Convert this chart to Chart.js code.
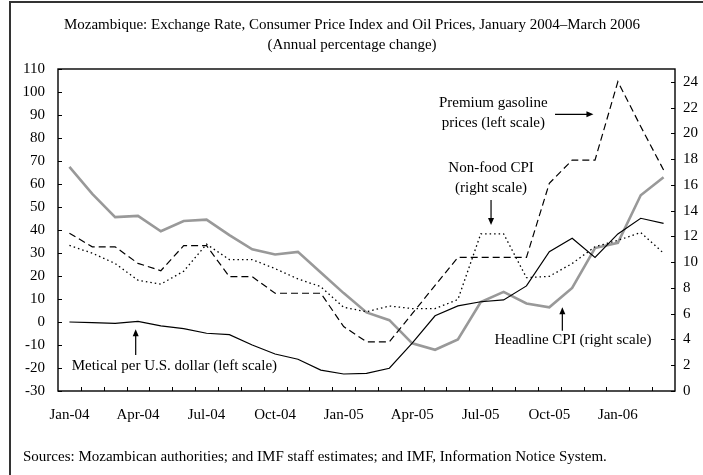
<!DOCTYPE html>
<html><head><meta charset="utf-8">
<script src="https://cdn.jsdelivr.net/npm/chart.js@4/dist/chart.umd.min.js"></script>
<style>html,body{margin:0;padding:0;background:#fff;} #wrap{width:703px;height:475px;position:relative;}</style>
</head><body><div id="wrap"><canvas id="c" width="703" height="475"></canvas></div>
<script>
const categories = ["Jan-04","Feb-04","Mar-04","Apr-04","May-04","Jun-04","Jul-04","Aug-04","Sep-04","Oct-04","Nov-04","Dec-04",
  "Jan-05","Feb-05","Mar-05","Apr-05","May-05","Jun-05","Jul-05","Aug-05","Sep-05","Oct-05","Nov-05","Dec-05",
  "Jan-06","Feb-06","Mar-06"];
const headlineCPI = [17.4,15.3,13.5,13.6,12.4,13.2,13.3,12.1,11.0,10.6,10.8,9.2,7.6,6.1,5.5,3.7,3.2,4.0,6.9,7.7,6.8,6.5,8.0,11.1,11.5,15.2,16.6];
const nonFoodCPI = [11.3,10.7,9.9,8.6,8.3,9.3,11.4,10.2,10.2,9.5,8.7,8.1,6.5,6.15,6.6,6.4,6.4,7.1,12.2,12.2,8.8,8.9,9.9,11.2,11.7,12.3,10.7];
const gasoline = [38.6,32.7,32.7,25.5,22.3,33.2,33.2,19.7,19.7,12.5,12.5,12.5,-2.0,-8.6,-8.6,3.6,15.9,28.1,28.1,28.1,28.1,60.3,70.4,70.4,104.5,85.0,66.1];
const metical = [0.0,-0.3,-0.6,0.3,-1.7,-2.9,-4.9,-5.5,-10.0,-13.9,-16.2,-20.9,-22.6,-22.3,-20.1,-9.2,2.7,7.0,8.8,9.6,15.7,30.6,36.4,28.1,38.3,45.1,42.9];
const leftAxis = {min:-30, max:110, step:10};
const rightAxis = {min:0, max:25, step:2};
const titleLines = ["Mozambique: Exchange Rate, Consumer Price Index and Oil Prices, January 2004\u2013March 2006", "(Annual percentage change)"];
const sourceNote = "Sources: Mozambican authorities; and IMF staff estimates; and IMF, Information Notice System.";

const FONT = "15px 'Liberation Serif'";
const fontObj = {family:"'Liberation Serif'", size:15};

const annotations = [
  {lines:["Metical per U.S. dollar (left scale)"], axis:'yL', x:0.1, y:-19.1, align:'left', arrow:{axis:'yL', x1:2.9, y1:-14.3, x2:2.9, y2:-3.2}},
  {lines:["Headline CPI (right scale)"], axis:'yR', x:18.6, y:3.96, align:'left', arrow:{axis:'yR', x1:21.57, y1:4.68, x2:21.57, y2:6.5}},
  {lines:["Non-food CPI","(right scale)"], axis:'yL', x:18.45, y:66.8, align:'center', arrow:{axis:'yL', x1:18.45, y1:53.0, x2:18.45, y2:42.2}},
  {lines:["Premium gasoline","prices (left scale)"], axis:'yL', x:18.55, y:95.3, align:'center', arrow:{axis:'yL', x1:21.25, y1:90.3, x2:22.93, y2:90.3}}
];

function arrowHead(ctx, x1, y1, x2, y2){
  const a = Math.atan2(y2-y1, x2-x1), L = 7, W = 3;
  ctx.beginPath();
  ctx.moveTo(x2, y2);
  ctx.lineTo(x2 - L*Math.cos(a) + W*Math.sin(a), y2 - L*Math.sin(a) - W*Math.cos(a));
  ctx.lineTo(x2 - L*Math.cos(a) - W*Math.sin(a), y2 - L*Math.sin(a) + W*Math.cos(a));
  ctx.closePath(); ctx.fill();
}

const decor = {
  id:'decor',
  beforeDatasetsDraw(chart){
    const {ctx, chartArea:a, scales} = chart;
    ctx.save();
    ctx.strokeStyle = '#000'; ctx.lineWidth = 1.4;
    ctx.strokeRect(a.left, a.top, a.right-a.left, a.bottom-a.top);
    ctx.lineWidth = 1;
    ctx.beginPath();
    scales.yL.ticks.forEach(t=>{ const y = Math.round(scales.yL.getPixelForValue(t.value))+0.5; ctx.moveTo(a.left, y); ctx.lineTo(a.left+4, y); });
    scales.yR.ticks.forEach(t=>{ const y = Math.round(scales.yR.getPixelForValue(t.value))+0.5; ctx.moveTo(a.right, y); ctx.lineTo(a.right-4, y); });
    for(let i=1;i<categories.length;i++){
      const x = Math.round((scales.x.getPixelForValue(i-1)+scales.x.getPixelForValue(i))/2)+0.5;
      ctx.moveTo(x, a.bottom); ctx.lineTo(x, a.bottom-4);
    }
    ctx.stroke();
    ctx.restore();
  },
  afterDraw(chart){
    const {ctx, scales} = chart;
    ctx.save();
    // outer frame
    ctx.strokeStyle = '#333'; ctx.lineWidth = 2;
    ctx.beginPath(); ctx.moveTo(10, 475); ctx.lineTo(10, 2); ctx.lineTo(703, 2); ctx.stroke();
    ctx.fillStyle = '#000'; ctx.font = FONT; ctx.textBaseline = 'middle';
    ctx.textAlign = 'center';
    ctx.fillText(titleLines[0], 352, 25);
    ctx.fillText(titleLines[1], 352, 45);
    ctx.textAlign = 'left';
    ctx.fillText(sourceNote, 23, 457);
    // annotations
    ctx.strokeStyle = '#000'; ctx.lineWidth = 1.2;
    annotations.forEach(an=>{
      const x = scales.x.getPixelForValue(an.x);
      const y = scales[an.axis].getPixelForValue(an.y);
      ctx.textAlign = an.align;
      an.lines.forEach((ln, k)=> ctx.fillText(ln, x, y + k*20));
      const ar = an.arrow;
      const x1 = scales.x.getPixelForValue(ar.x1), x2 = scales.x.getPixelForValue(ar.x2);
      const y1 = scales[ar.axis].getPixelForValue(ar.y1), y2 = scales[ar.axis].getPixelForValue(ar.y2);
      ctx.beginPath(); ctx.moveTo(x1, y1);
      const ang = Math.atan2(y2-y1, x2-x1);
      ctx.lineTo(x2 - 6*Math.cos(ang), y2 - 6*Math.sin(ang)); ctx.stroke();
      arrowHead(ctx, x1, y1, x2, y2);
    });
    ctx.restore();
  }
};

new Chart(document.getElementById('c'), {
  type:'line',
  data:{ labels: categories, datasets:[
    {label:'Premium gasoline prices (left scale)', data:gasoline, yAxisID:'yL', borderColor:'#000', borderWidth:1.2, borderDash:[7,4], pointRadius:0, tension:0, fill:false},
    {label:'Non-food CPI (right scale)', data:nonFoodCPI, yAxisID:'yR', borderColor:'#000', borderWidth:1.3, borderDash:[1.5,3], pointRadius:0, tension:0, fill:false},
    {label:'Metical per U.S. dollar (left scale)', data:metical, yAxisID:'yL', borderColor:'#000', borderWidth:1.2, pointRadius:0, tension:0, fill:false},
    {label:'Headline CPI (right scale)', data:headlineCPI, yAxisID:'yR', borderColor:'#999999', borderWidth:2.6, pointRadius:0, tension:0, fill:false}
  ]},
  options:{
    responsive:false, animation:false, devicePixelRatio:1,
    layout:{padding:{top:69, left:0, right:0, bottom:0}},
    plugins:{legend:{display:false}, tooltip:{enabled:false}, title:{display:false}},
    scales:{
      x:{type:'category', offset:true, grid:{display:false, drawTicks:false}, border:{display:false},
         ticks:{autoSkip:false, maxRotation:0, minRotation:0, padding:15, color:'#000', font:fontObj,
           callback:(v,i)=> i%3===0 ? categories[i] : ''},
         afterFit:s=>{ s.height = 84; }},
      yL:{type:'linear', position:'left', min:leftAxis.min, max:leftAxis.max,
         grid:{display:false, drawTicks:false}, border:{display:false},
         ticks:{stepSize:leftAxis.step, padding:13, color:'#000', font:fontObj},
         afterFit:s=>{ s.width = 58; }},
      yR:{type:'linear', position:'right', min:rightAxis.min, max:rightAxis.max,
         grid:{display:false, drawTicks:false}, border:{display:false},
         ticks:{stepSize:rightAxis.step, includeBounds:false, padding:8, color:'#000', font:fontObj},
         afterFit:s=>{ s.width = 28; }}
    }
  },
  plugins:[decor]
});
</script></body></html>
